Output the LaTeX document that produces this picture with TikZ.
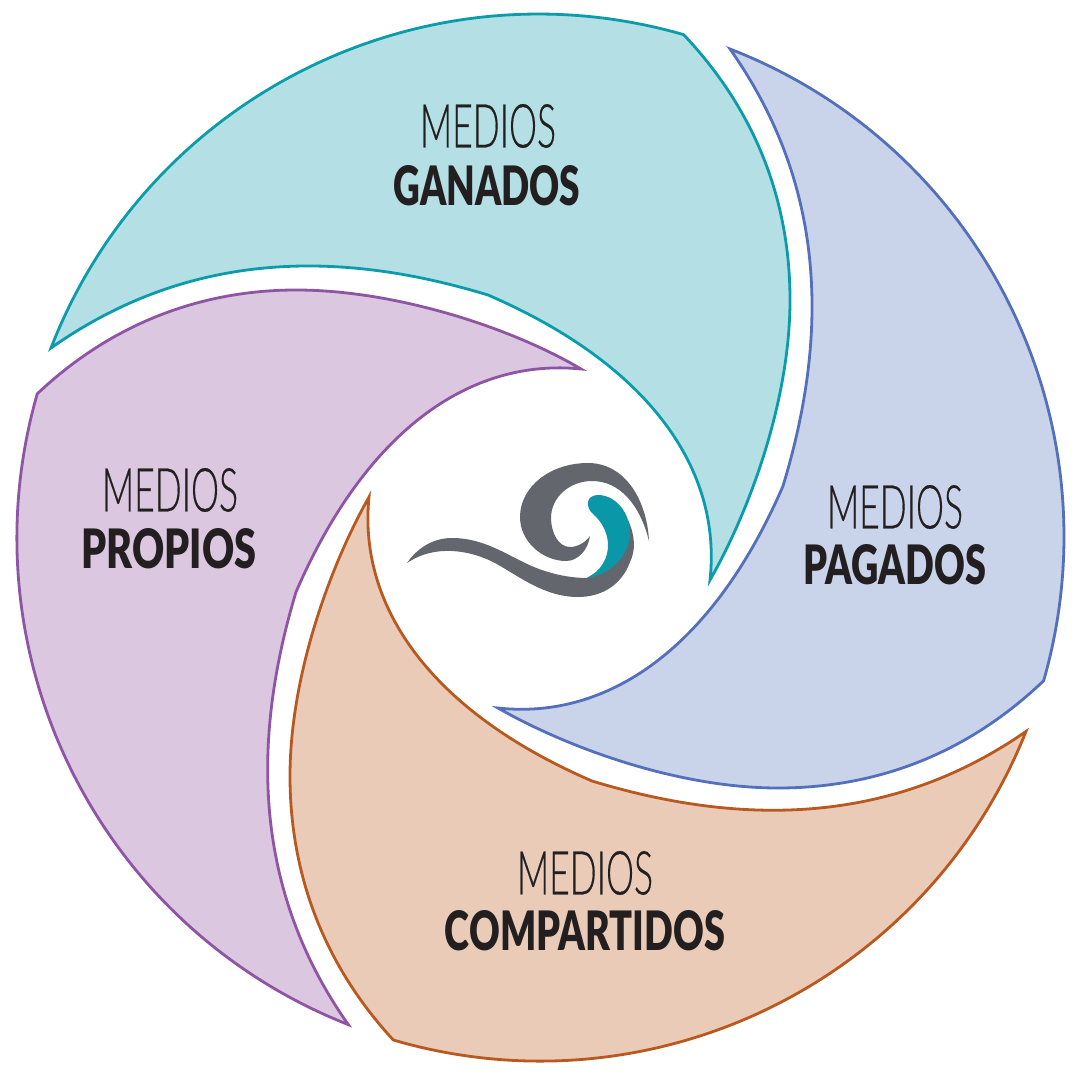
\documentclass[tikz,border=0pt]{standalone}
\usepackage{fontspec}
\usepackage{graphicx}
\setmainfont{Lato}
\newfontfamily\lightfont[FakeBold=0.4]{Lato Light}
\newfontfamily\blackfont{Lato Black}
\definecolor{gF}{HTML}{B4DFE4}\definecolor{gS}{HTML}{0A9CAB}
\definecolor{pF}{HTML}{C9D3EA}\definecolor{pS}{HTML}{5470BC}
\definecolor{cF}{HTML}{E9CBB8}\definecolor{cS}{HTML}{B9591F}
\definecolor{mF}{HTML}{DCC7E0}\definecolor{mS}{HTML}{8E55A5}
\definecolor{logoG}{HTML}{63676D}\definecolor{logoT}{HTML}{0A98A8}
\definecolor{ink}{HTML}{231F20}
\newcommand{\thin}[1]{\resizebox{102pt}{32.5pt}{\lightfont #1}}
\newcommand{\thick}[2]{\resizebox{#1}{30pt}{\blackfont #2}}
\tikzset{petal/.style={line width=2.1pt,line join=miter},lbl/.style={inner sep=0pt,text=ink}}
\begin{document}
\begin{tikzpicture}[x=0.75pt,y=-0.75pt]
\useasboundingbox (0,0) rectangle (1080,1080);
\fill[white] (0,0) rectangle (1080,1080);
\draw[petal,fill=gF,draw=gS] (51,348) arc[start angle=-158.8,end angle=-73.9,radius=523]
 .. controls (755,110) and (790,200) .. (790,300)
 .. controls (790,400) and (750,510) .. (710,580)
 .. controls (722,470) and (650,365) .. (488,295)
 .. controls (340,250) and (190,250) .. (51,348) -- cycle;
\draw[petal,fill=pF,draw=pS] (730,49) arc[start angle=-68.8,end angle=16,radius=523]
 .. controls (968,753) and (878,788) .. (778,788)
 .. controls (678,788) and (568,748) .. (498,708)
 .. controls (608,720) and (713,648) .. (783,486)
 .. controls (828,338) and (828,188) .. (730,49) -- cycle;
\draw[petal,fill=cF,draw=cS] (1026,731.4) arc[start angle=21.7,end angle=106.3,radius=523]
 .. controls (325,966) and (290,876) .. (290,776)
 .. controls (290,676) and (330,566) .. (369,497)
 .. controls (358,606) and (430,711) .. (592,781)
 .. controls (740,826) and (890,826) .. (1026,731.4) -- cycle;
\draw[petal,fill=mF,draw=mS] (348.3,1024.6) arc[start angle=111.5,end angle=196,radius=523]
 .. controls (112,323) and (202,290) .. (296,290)
 .. controls (396,290) and (512,328) .. (581,369)
 .. controls (472,358) and (367,428) .. (296,592)
 .. controls (252,738) and (252,888) .. (348.3,1024.6) -- cycle;
% logo
\fill[logoG] (649,541) .. controls (647,500) and (625,463) .. (588,463)
 .. controls (550,463) and (520,487) .. (520,517)
 .. controls (520,542) and (543,561) .. (566,561)
 .. controls (578,561) and (588,550) .. (590,536)
 .. controls (585,543) and (577,547) .. (570,547)
 .. controls (558,547) and (551,532) .. (551,518)
 .. controls (551,497) and (570,481) .. (592,481)
 .. controls (620,481) and (640,505) .. (649,541) -- cycle;
\fill[logoG] (407,563) .. controls (418,547) and (434,538) .. (452,538)
 .. controls (490,538) and (515,562) .. (545,571)
 .. controls (560,576) and (575,578) .. (587,578)
 -- (606,566) -- (618,540) -- (628,520)
 .. controls (635,535) and (636,550) .. (630,562)
 .. controls (622,584) and (603,597) .. (578,597)
 .. controls (545,597) and (520,577) .. (495,563)
 .. controls (470,550) and (435,544) .. (407,563) -- cycle;
\fill[logoT] (587,578) .. controls (600,572) and (609,558) .. (608,543)
 .. controls (607,530) and (600,520) .. (593,514)
 .. controls (585,507) and (586,495) .. (598,495)
 .. controls (615,495) and (630,512) .. (630,533)
 .. controls (630,555) and (610,575) .. (587,578) -- cycle;
% labels
\node[lbl] (m1) at (488,126) {\thin{MEDIOS}};
\node[lbl] (t1) at (487,186) {\thick{140pt}{GANADOS}};
\node[lbl] (m2) at (895,507) {\thin{MEDIOS}};
\node[lbl] (t2) at (895,565) {\thick{137pt}{PAGADOS}};
\node[lbl] (m3) at (585,873) {\thin{MEDIOS}};
\node[lbl] (t3) at (585,931) {\thick{210pt}{COMPARTIDOS}};
\node[lbl] (m4) at (170,490) {\thin{MEDIOS}};
\node[lbl] (t4) at (169,549) {\thick{131pt}{PROPIOS}};
\end{tikzpicture}
\end{document}
